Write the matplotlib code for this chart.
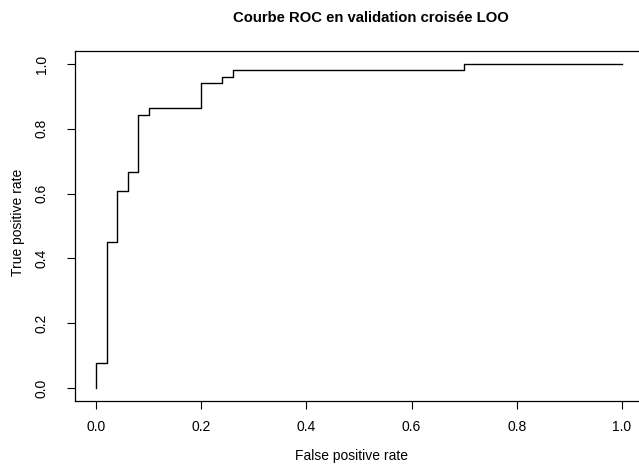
import matplotlib
matplotlib.use("Agg")
import matplotlib.pyplot as plt

# ROC curve points (LOO cross-validation), drawn as a step function
fpr = [0.0, 0.0, 0.02, 0.02, 0.04, 0.04, 0.06, 0.06, 0.08, 0.08, 0.10, 0.10,
       0.20, 0.20, 0.24, 0.24, 0.26, 0.26, 0.70, 0.70, 1.0]
tpr = [0.0, 4 / 51, 4 / 51, 23 / 51, 23 / 51, 31 / 51, 31 / 51, 34 / 51, 34 / 51,
       43 / 51, 43 / 51, 44 / 51, 44 / 51, 48 / 51, 48 / 51, 49 / 51, 49 / 51,
       50 / 51, 50 / 51, 1.0, 1.0]
ticks = [0.0, 0.2, 0.4, 0.6, 0.8, 1.0]
tick_labels = ["0.0", "0.2", "0.4", "0.6", "0.8", "1.0"]

plt.rcParams["font.family"] = ["Liberation Sans", "DejaVu Sans"]

fig = plt.figure(figsize=(6.39, 4.67), dpi=100)
ax = fig.add_axes([75 / 639, 66 / 467, 568 / 639, 350 / 467])

ax.plot(fpr, tpr, color="black", linewidth=1.0)
ax.set_xlim(-0.04, 1.04)
ax.set_ylim(-0.04, 1.04)

ax.set_xticks(ticks)
ax.set_xticklabels(tick_labels, fontsize=10)
ax.set_yticks(ticks)
ax.set_yticklabels(tick_labels, fontsize=10)
ax.tick_params(direction="out", length=6, width=0.8)
ax.tick_params(axis="x", pad=8)
ax.tick_params(axis="y", labelrotation=90, pad=13)
for lbl in ax.get_yticklabels():
    lbl.set_verticalalignment("center")

for spine in ax.spines.values():
    spine.set_linewidth(0.9)

fig.text(371 / 639, 1 - 18 / 467, "Courbe ROC en validation croisée LOO",
         ha="center", va="center", fontsize=10.7, fontweight="bold")
fig.text(351 / 639, 1 - 456 / 467, "False positive rate",
         ha="center", va="center", fontsize=10)
fig.text(18 / 639, 1 - 222 / 467, "True positive rate",
         ha="center", va="center", fontsize=10, rotation=90)

fig.savefig("out.png", dpi=100)
